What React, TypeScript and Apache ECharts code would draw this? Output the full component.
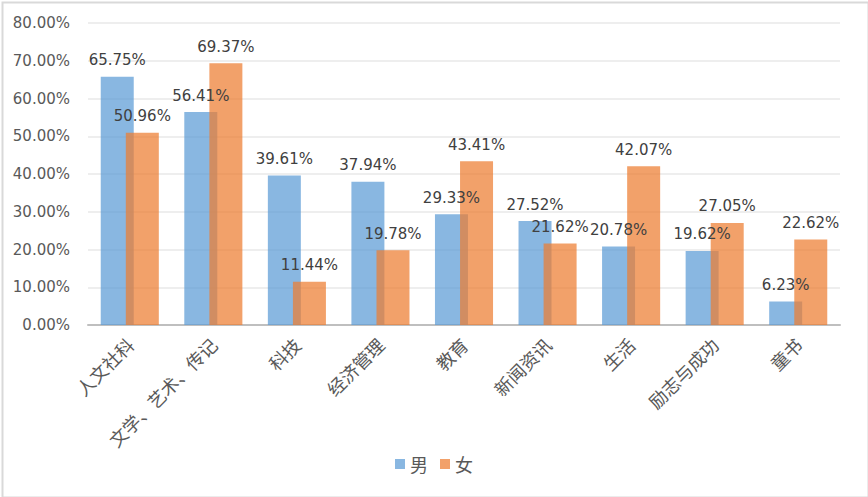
import React, { useEffect, useRef } from "react";
import * as echarts from "echarts";

const categories = ["人文社科", "文学、艺术、传记", "科技", "经济管理", "教育", "新闻资讯", "生活", "励志与成功", "童书"];
const maleValues = [65.75, 56.41, 39.61, 37.94, 29.33, 27.52, 20.78, 19.62, 6.23];
const femaleValues = [50.96, 69.37, 11.44, 19.78, 43.41, 21.62, 42.07, 27.05, 22.62];
const seriesNames = ["男", "女"];

export default function App() {
  const ref = useRef<HTMLDivElement>(null);
  useEffect(() => {
    if (!ref.current) return;
    const chart = echarts.init(ref.current, null, { renderer: "svg" });
    const labelCfg = {
      show: true,
      position: "top",
      distance: 9,
      color: "#404040",
      fontSize: 15,
      fontFamily: "DejaVu Sans",
      formatter: (p: any) => p.value.toFixed(2) + "%",
    };
    chart.setOption({
      animation: false,
      backgroundColor: "#ffffff",
      grid: { left: 88, right: 28, top: 23, bottom: 172, containLabel: false },
      legend: {
        data: seriesNames,
        bottom: 19,
        left: "center",
        icon: "rect",
        itemWidth: 10,
        itemHeight: 10,
        itemGap: 12,
        textStyle: { fontSize: 18, color: "#595959", fontFamily: "Noto Sans CJK SC" },
      },
      xAxis: {
        type: "category",
        data: categories,
        axisTick: { show: false },
        axisLine: { lineStyle: { color: "#BFBFBF", width: 2 } },
        axisLabel: {
          rotate: 45,
          interval: 0,
          margin: 16,
          fontSize: 18,
          color: "#595959",
          fontFamily: "Noto Sans CJK SC",
        },
      },
      yAxis: {
        type: "value",
        min: 0,
        max: 80,
        interval: 10,
        axisLine: { show: false },
        axisTick: { show: false },
        splitLine: { lineStyle: { color: "#E8E8E8", width: 1.5 } },
        axisLabel: {
          margin: 18,
          fontSize: 15,
          color: "#595959",
          fontFamily: "DejaVu Sans",
          formatter: (v: number) => v.toFixed(2) + "%",
        },
      },
      series: [
        {
          name: seriesNames[0],
          type: "bar",
          data: maleValues,
          barWidth: 33,
          barGap: "-24%",
          itemStyle: { color: "rgba(91,155,213,0.72)" },
          label: labelCfg,
        },
        {
          name: seriesNames[1],
          type: "bar",
          data: femaleValues,
          barWidth: 33,
          itemStyle: { color: "rgba(237,125,49,0.72)" },
          label: labelCfg,
        },
      ],
      graphic: [
        {
          type: "rect",
          left: 0,
          top: 0,
          shape: { x: 1, y: 1, width: 866, height: 495 },
          style: { fill: "none", stroke: "#D9D9D9", lineWidth: 2 },
          silent: true,
        },
      ],
    });
    return () => chart.dispose();
  }, []);
  return (
    <div
      ref={ref}
      style={{ position: "fixed", left: 0, top: 0, width: 868, height: 497 }}
    />
  );
}
